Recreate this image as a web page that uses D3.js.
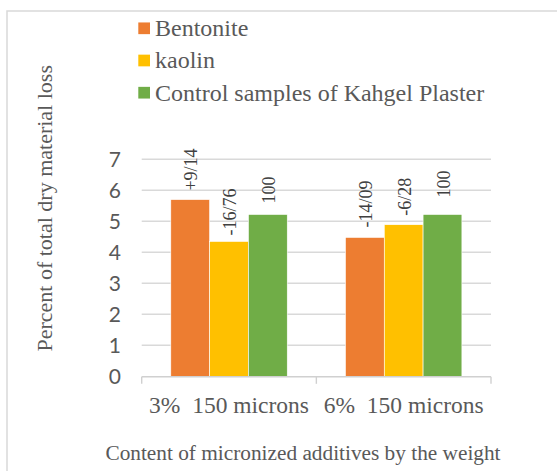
<!DOCTYPE html>
<html>
<head>
<meta charset="utf-8">
<script src="https://cdn.jsdelivr.net/npm/d3@7"></script>
<style>
  html, body { margin: 0; padding: 0; background: #fff; }
  svg { display: block; }
</style>
</head>
<body>
<script>
// ---- data ----
const categories = ["3%  150 microns", "6%  150 microns"];
const seriesNames = ["Bentonite", "kaolin", "Control samples of Kahgel Plaster"];
const bentonite = [5.70, 4.48];
const kaolin = [4.35, 4.89];
const control = [5.22, 5.22];
const bentoniteLabels = ["+9/14", "-14/09"];
const kaolinLabels = ["-16/76", "-6/28"];
const controlLabels = ["100", "100"];
const yTicks = [0, 1, 2, 3, 4, 5, 6, 7];
const yTitle = "Percent of total dry material loss";
const xTitle = "Content of micronized additives by the weight";

// ---- style / layout ----
const colors = ["#ED7D31", "#FFC000", "#70AD47"];
const labelGap = [[9, 10], [6, 9], [11, 17]]; // per series, per category
const W = 557, H = 471;
const plot = { left: 141.7, right: 491, top: 159.3, bottom: 376.3 };

const seriesValues = [bentonite, kaolin, control];
const seriesLabels = [bentoniteLabels, kaolinLabels, controlLabels];

const svg = d3.select("body").append("svg").attr("width", W).attr("height", H);

// frame
svg.append("rect").attr("x", 7).attr("y", 11).attr("width", 700).attr("height", 700)
  .attr("fill", "none").attr("stroke", "#d9d9d9").attr("stroke-width", 1.5);

const y = d3.scaleLinear().domain([0, 7]).range([plot.bottom, plot.top]);
const x0 = d3.scaleBand().domain(categories).range([plot.left, plot.right]).padding(0);
const bw = x0.bandwidth();
const x1 = d3.scaleBand().domain(d3.range(seriesNames.length)).range([bw / 6, bw * 5 / 6]).padding(0);

// gridlines
svg.append("g").selectAll("line").data(yTicks.filter(t => t > 0)).join("line")
  .attr("x1", plot.left).attr("x2", plot.right)
  .attr("y1", d => y(d)).attr("y2", d => y(d))
  .attr("stroke", "#d9d9d9").attr("stroke-width", 1.4);

// y tick labels
svg.append("g").selectAll("text").data(yTicks).join("text")
  .attr("x", 121).attr("y", d => y(d)).attr("dy", "0.36em")
  .attr("text-anchor", "end")
  .attr("font-family", "Lato, 'Open Sans', sans-serif").attr("font-size", 21)
  .attr("fill", "#595959").text(d => d);

// bars
const bars = [];
seriesValues.forEach((vals, s) => {
  vals.forEach((v, c) => bars.push({ s, c, v, label: seriesLabels[s][c] }));
});

svg.append("g").selectAll("rect").data(bars).join("rect")
  .attr("x", d => x0(categories[d.c]) + x1(d.s))
  .attr("width", x1.bandwidth())
  .attr("y", d => y(d.v))
  .attr("height", d => y(0) - y(d.v))
  .attr("fill", d => colors[d.s])
  .attr("stroke", "#fff").attr("stroke-width", 0.6);

// data labels (rotated)
svg.append("g").selectAll("text").data(bars).join("text")
  .attr("transform", d => {
    const cx = x0(categories[d.c]) + x1(d.s) + x1.bandwidth() / 2;
    const ty = y(d.v) - labelGap[d.s][d.c];
    return `translate(${cx},${ty}) rotate(-90)`;
  })
  .attr("dy", "0.4em")
  .attr("text-anchor", "start")
  .attr("font-family", "'Liberation Serif', 'Times New Roman', serif").attr("font-size", 18)
  .attr("fill", "#404040").text(d => d.label);

// x axis line and ticks
const axis = svg.append("g").attr("transform", `translate(0,${plot.bottom + 0.5})`);
axis.append("line").attr("x1", plot.left).attr("x2", plot.right)
  .attr("stroke", "#d0d0d0").attr("stroke-width", 1.4);
const tickXs = categories.map(c => x0(c)).concat([plot.right]);
axis.selectAll("line.tick").data(tickXs).join("line").attr("class", "tick")
  .attr("x1", d => d).attr("x2", d => d).attr("y1", 0).attr("y2", 7)
  .attr("stroke", "#d0d0d0").attr("stroke-width", 1.4);

// category labels
svg.append("g").selectAll("text").data(categories).join("text")
  .attr("x", d => x0(d) + bw / 2).attr("y", 413.3)
  .attr("text-anchor", "middle")
  .attr("font-family", "'Liberation Serif', 'Times New Roman', serif").attr("font-size", 23.5)
  .attr("fill", "#595959").style("white-space", "pre").text(d => d);

// axis titles
svg.append("text").attr("x", 303).attr("y", 460)
  .attr("text-anchor", "middle")
  .attr("font-family", "'Liberation Serif', 'Times New Roman', serif").attr("font-size", 21.3)
  .attr("fill", "#595959").text(xTitle);

svg.append("text").attr("transform", "translate(51.5,208.3) rotate(-90)")
  .attr("text-anchor", "middle")
  .attr("font-family", "'Liberation Serif', 'Times New Roman', serif").attr("font-size", 22)
  .attr("fill", "#595959").text(yTitle);

// legend
const legend = svg.append("g").selectAll("g").data(seriesNames).join("g")
  .attr("transform", (d, i) => `translate(138.3,${28.3 + i * 32.2})`);
legend.append("rect").attr("x", 0).attr("y", -5.85).attr("width", 11.7).attr("height", 11.7)
  .attr("fill", (d, i) => colors[i]);
legend.append("text").attr("x", 16.7).attr("y", 0).attr("dy", "0.33em")
  .attr("font-family", "'Liberation Serif', 'Times New Roman', serif").attr("font-size", 24)
  .attr("fill", "#595959").text(d => d);
</script>
</body>
</html>
